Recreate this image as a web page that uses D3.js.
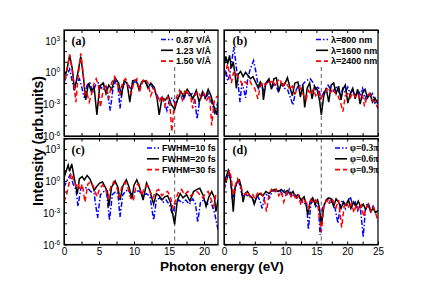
<!DOCTYPE html>
<html>
<head>
<meta charset="utf-8">
<script src="https://cdn.jsdelivr.net/npm/d3@7"></script>
<style>
  body { margin: 0; background: #fff; }
  svg { font-family: "Liberation Sans", Arial, sans-serif; }
  .axis path, .axis line { stroke: #000; stroke-width: 1; }
  .axis text { font-size: 10px; fill: #000; }
  .legend text { font-size: 9px; font-weight: bold; }
</style>
</head>
<body>
<svg id="chart" width="436" height="300"></svg>
<script>

// values are log10 of intensity as [eV, exponent]
var fieldLow = [[0,-0.9],[0.4,-0.3],[0.8,0.3],[1.1,-0.6],[1.4,-1.5],[1.8,-0.9],[2.2,-0.6],[2.5,-1.3],[2.9,-2.4],[3.3,-1.2],[3.7,-1.0],[4.1,-1.9],[4.5,-1.2],[4.9,-1.0],[5.3,-1.5],[5.7,-1.1],[6.1,-1.4],[6.6,-3.6],[7.0,-1.5],[7.4,-0.8],[7.7,-1.2],[8.0,-3.4],[8.4,-1.3],[8.8,-0.9],[9.2,-1.2],[9.6,-1.6],[10.0,-0.9],[10.4,-0.9],[10.8,-1.5],[11.2,-1.0],[11.6,-0.9],[12.0,-1.3],[12.4,-1.1],[12.8,-1.6],[13.2,-2.0],[13.6,-2.6],[14.0,-2.3],[14.4,-2.9],[14.7,-3.6],[15.1,-2.5],[15.5,-2.4],[15.9,-3.0],[16.3,-2.4],[16.7,-2.1],[17.1,-2.5],[17.5,-1.9],[17.9,-2.2],[18.3,-2.0],[18.7,-2.6],[19.0,-4.4],[19.4,-2.6],[19.8,-2.1],[20.2,-2.5],[20.6,-2.0],[21.0,-2.6],[21.5,-3.8],[22,-2.8]];
var fieldMid = [[0,-0.5],[0.4,0.2],[0.8,1.6],[1.2,0.3],[1.5,-1.7],[1.9,-0.3],[2.4,1.5],[2.8,-0.6],[3.1,-2.6],[3.5,-1.0],[3.9,-1.8],[4.3,-1.4],[4.7,-4.0],[5.1,-1.3],[5.6,-1.0],[6.0,-2.0],[6.4,-1.2],[6.8,-1.6],[7.3,-0.5],[7.8,-1.0],[8.2,-2.2],[8.6,-0.8],[9.0,-1.0],[9.4,-2.8],[9.8,-0.8],[10.3,-0.7],[10.7,-1.6],[11.1,-0.9],[11.6,-0.8],[12.0,-1.5],[12.4,-1.0],[12.9,-1.4],[13.3,-2.5],[13.6,-4.0],[14.0,-2.4],[14.5,-2.6],[14.9,-2.2],[15.3,-3.0],[15.8,-3.5],[16.2,-2.6],[16.7,-1.8],[17.1,-2.3],[17.6,-1.6],[18.0,-2.0],[18.4,-2.5],[18.9,-1.7],[19.3,-2.8],[19.8,-1.8],[20.2,-2.4],[20.6,-1.6],[21.0,-2.2],[21.4,-3.2],[21.8,-4.0],[22,-3.0]];
var fieldHigh = [[0,-1.4],[0.3,-0.3],[0.8,1.7],[1.1,0.5],[1.4,-1.0],[1.7,-2.8],[2.0,-0.5],[2.4,1.8],[2.7,0.2],[3.0,-2.2],[3.3,-2.0],[3.6,-2.8],[4.0,-1.9],[4.3,-1.0],[4.6,-0.6],[4.9,-1.2],[5.2,-3.3],[5.6,-1.6],[6.0,-1.3],[6.4,-2.5],[6.8,-1.0],[7.2,-0.4],[7.6,-1.1],[8.0,-2.0],[8.4,-0.9],[8.8,-0.6],[9.2,-1.3],[9.6,-2.0],[10.0,-0.9],[10.4,-0.6],[10.8,-1.8],[11.2,-0.8],[11.6,-0.6],[12.0,-1.0],[12.4,-2.2],[12.8,-1.5],[13.2,-2.1],[13.6,-2.8],[14.0,-2.2],[14.4,-3.2],[14.8,-2.3],[15.1,-2.8],[15.4,-5.6],[15.7,-3.4],[16.1,-2.3],[16.5,-1.7],[16.9,-2.6],[17.3,-1.6],[17.7,-2.0],[18.1,-2.3],[18.4,-3.4],[18.8,-2.0],[19.2,-1.8],[19.6,-2.4],[20.0,-2.0],[20.4,-2.6],[20.8,-2.2],[21.1,-5.0],[21.5,-2.5],[22,-2.2]];

var wave800 = [[0,-0.6],[0.3,0.2],[0.6,-0.8],[0.9,-0.3],[1.2,0.8],[1.6,2.4],[1.9,1.0],[2.2,-0.6],[2.6,-2.8],[2.9,-1.0],[3.2,-1.6],[3.5,-2.4],[3.8,-0.8],[4.2,0.2],[4.8,1.1],[5.2,0.0],[5.6,-1.5],[6.0,-1.0],[6.4,-1.7],[6.8,-1.1],[7.3,-0.8],[7.8,-1.4],[8.3,-1.0],[8.8,-1.8],[9.3,-1.1],[9.8,-1.5],[10.3,-1.6],[10.8,-2.4],[11.2,-3.1],[11.6,-1.8],[12.1,-1.2],[12.6,-1.3],[13.1,-0.9],[13.6,-0.7],[14.0,-0.6],[14.5,-1.0],[14.9,-1.6],[15.3,-1.3],[15.7,-2.4],[16.1,-2.0],[16.5,-1.6],[16.9,-1.2],[17.3,-1.6],[17.7,-1.9],[18.1,-1.3],[18.5,-1.6],[18.9,-2.2],[19.3,-1.5],[19.7,-1.9],[20.1,-1.4],[20.5,-2.0],[20.9,-1.7],[21.3,-2.3],[21.7,-1.6],[22.1,-2.1],[22.5,-1.5],[22.9,-2.5],[23.3,-2.0],[23.7,-2.3],[24.1,-2.0],[24.5,-2.9],[25,-2.6]];
var wave1600 = [[0,0.6],[0.3,1.5],[0.6,0.8],[0.9,1.6],[1.2,0.4],[1.5,1.0],[1.8,-0.2],[2.0,-1.5],[2.3,-0.2],[2.7,0.1],[3.1,-0.4],[3.5,0.0],[3.9,-0.3],[4.3,-0.6],[4.7,-0.4],[5.1,-0.9],[5.5,-1.4],[5.9,-0.9],[6.2,-1.2],[6.4,-2.6],[6.8,-1.0],[7.3,-0.6],[7.7,-1.6],[8.1,-0.6],[8.5,-0.5],[8.9,-1.8],[9.3,-1.0],[9.8,-1.2],[10.3,-0.5],[10.7,-1.4],[11.1,-2.2],[11.5,-1.0],[12.0,-0.9],[12.4,-2.3],[12.8,-1.2],[13.1,-3.3],[13.5,-1.5],[13.9,-1.0],[14.3,-2.5],[14.7,-1.3],[15.1,-1.6],[15.5,-2.6],[15.8,-4.0],[16.2,-2.2],[16.6,-1.5],[17.0,-2.8],[17.4,-1.2],[17.8,-1.0],[18.2,-2.0],[18.6,-1.3],[19.0,-2.6],[19.3,-1.6],[19.7,-1.2],[20.1,-2.9],[20.5,-2.0],[20.9,-1.5],[21.3,-2.5],[21.7,-1.6],[22.1,-3.0],[22.5,-1.9],[22.9,-1.6],[23.3,-2.4],[23.7,-2.0],[24.1,-2.8],[24.5,-2.4],[25,-3.0]];
var wave2400 = [[0,-0.4],[0.3,0.2],[0.6,0.8],[0.9,-0.2],[1.2,-1.0],[1.5,-0.1],[1.8,0.1],[2.2,-0.4],[2.6,-0.7],[3.0,-1.2],[3.4,-0.9],[3.8,-1.1],[4.2,-0.8],[4.6,-1.3],[5.0,-1.5],[5.5,-2.5],[5.9,-1.3],[6.3,-0.9],[6.7,-1.2],[7.1,-0.8],[7.5,-1.0],[7.9,-0.7],[8.3,-1.3],[8.7,-0.8],[9.1,-0.6],[9.5,-1.4],[9.9,-0.9],[10.3,-1.2],[10.7,-1.6],[11.1,-1.3],[11.5,-2.0],[11.9,-1.6],[12.3,-1.4],[12.7,-1.9],[13.3,-2.6],[13.7,-1.7],[14.1,-2.1],[14.5,-1.6],[14.9,-2.2],[15.3,-1.8],[15.7,-2.5],[16.1,-2.1],[16.5,-1.8],[16.9,-1.4],[17.3,-1.9],[17.7,-1.6],[18.1,-2.0],[18.5,-2.2],[18.9,-2.8],[19.3,-3.7],[19.7,-2.2],[20.1,-2.0],[20.5,-2.4],[20.9,-1.9],[21.3,-2.3],[21.7,-2.0],[22.1,-2.5],[22.5,-2.2],[22.8,-3.2],[23.2,-2.3],[23.6,-2.0],[24.0,-2.6],[24.5,-2.8],[25,-3.4]];

var fwhm10 = [[0,-0.6],[0.4,0.0],[0.9,0.6],[1.3,-0.3],[1.7,-0.8],[2.0,-2.4],[2.4,-0.7],[2.9,-0.6],[3.4,-0.7],[3.8,-1.0],[4.3,-1.2],[4.8,-3.5],[5.2,-1.3],[5.7,-1.0],[6.1,-1.2],[6.5,-3.7],[6.9,-1.3],[7.4,-1.0],[7.7,-1.2],[8.0,-3.4],[8.4,-1.3],[8.9,-0.9],[9.4,-1.1],[9.8,-1.3],[10.3,-0.9],[10.8,-1.0],[11.3,-1.4],[11.8,-1.2],[12.3,-1.5],[12.8,-3.7],[13.2,-1.8],[13.7,-1.6],[14.2,-2.0],[14.6,-1.8],[15.1,-2.3],[15.5,-3.2],[15.9,-2.2],[16.4,-1.8],[16.9,-2.1],[17.4,-1.8],[17.9,-2.2],[18.4,-1.7],[18.8,-2.2],[19.1,-3.9],[19.5,-2.0],[20.0,-1.8],[20.5,-2.2],[21.0,-2.0],[21.5,-3.0],[22,-4.6]];
var fwhm20 = [[0,0.3],[0.3,0.9],[0.6,1.5],[0.8,0.9],[1.1,1.6],[1.6,-0.2],[1.9,-1.2],[2.2,0.2],[2.6,0.4],[2.9,0.1],[3.3,0.5],[3.7,0.2],[4.0,-0.3],[4.3,-0.9],[4.7,-0.5],[5.1,-0.2],[5.5,-0.1],[5.9,-0.6],[6.2,-1.0],[6.4,-2.4],[6.8,-0.6],[7.3,0.0],[7.7,-0.6],[8.0,-1.8],[8.4,-0.5],[8.9,0.1],[9.3,-0.6],[9.7,-1.7],[10.0,-0.4],[10.4,0.1],[10.8,-0.6],[11.3,-1.8],[11.8,-0.2],[12.2,-0.8],[12.8,-2.2],[13.2,-1.2],[13.6,-1.4],[14.0,-1.8],[14.4,-1.5],[14.8,-1.4],[15.2,-2.0],[15.8,-4.1],[16.2,-1.8],[16.6,-1.2],[17.0,-1.6],[17.5,-1.3],[18.0,-1.9],[18.5,-1.0],[19.0,-0.8],[19.4,-0.7],[19.9,-1.4],[20.3,-2.4],[20.7,-1.5],[21.1,-1.0],[21.5,-1.6],[21.7,-2.9],[22,-1.8]];
var fwhm30 = [[0,-2.0],[0.4,-1.2],[0.7,-0.3],[1.0,0.7],[1.3,0.2],[1.7,-0.5],[2.0,-0.2],[2.3,-0.9],[2.6,-0.3],[3.0,-2.0],[3.4,-0.3],[3.8,-0.1],[4.2,-0.5],[4.7,-1.5],[5.1,-0.7],[5.5,-0.4],[5.9,-0.7],[6.3,-1.6],[6.7,-0.5],[7.1,-0.1],[7.5,-0.5],[7.9,-1.5],[8.3,-0.5],[8.7,-0.1],[9.1,-0.6],[9.5,-1.6],[9.9,-1.9],[10.3,-0.4],[10.7,-0.3],[11.1,-1.4],[11.5,-0.6],[11.9,-0.4],[12.3,-1.0],[12.7,-1.6],[13.1,-1.0],[13.5,-0.8],[14.0,-1.4],[14.4,-1.1],[14.8,-1.0],[15.2,-1.5],[15.6,-2.6],[16.0,-1.6],[16.4,-1.0],[16.8,-0.8],[17.2,-1.3],[17.7,-1.0],[18.1,-1.4],[18.5,-1.2],[19.0,-1.0],[19.4,-1.3],[19.8,-1.6],[20.2,-1.2],[20.6,-1.0],[21.0,-1.7],[21.4,-2.4],[21.7,-1.3],[22,-1.1]];

var phase03 = [[0,-0.8],[0.4,-0.1],[0.8,0.9],[1.1,0.0],[1.4,-1.9],[1.7,-1.0],[2.0,-0.3],[2.3,0.2],[2.6,-0.5],[3.0,-1.5],[3.4,-1.2],[3.8,-1.4],[4.2,-1.3],[4.6,-1.7],[5.0,-2.0],[5.4,-1.4],[5.8,-1.8],[6.2,-2.6],[6.6,-1.5],[7.0,-1.2],[7.4,-1.6],[7.8,-1.0],[8.2,-0.9],[8.6,-1.1],[9.0,-0.8],[9.4,-1.2],[9.8,-0.9],[10.2,-1.3],[10.6,-0.8],[11.0,-1.5],[11.4,-1.2],[11.8,-1.6],[12.2,-1.4],[12.6,-1.9],[13.0,-2.2],[13.4,-2.0],[13.7,-4.6],[14.1,-2.2],[14.5,-1.7],[14.9,-2.4],[15.3,-2.1],[15.6,-5.1],[16.0,-2.6],[16.4,-2.0],[16.8,-1.7],[17.2,-2.2],[17.6,-1.8],[18.0,-2.5],[18.5,-4.0],[18.9,-2.2],[19.3,-1.8],[19.7,-2.6],[20.1,-1.9],[20.5,-1.5],[20.9,-2.3],[21.3,-2.0],[21.7,-2.8],[22.1,-2.3],[22.6,-5.3],[23.0,-2.4],[23.4,-2.1],[23.8,-2.8],[24.2,-2.4],[24.6,-3.0],[25,-2.8]];
var phase06 = [[0,-0.4],[0.3,0.3],[0.7,1.0],[1.0,0.4],[1.2,-0.6],[1.5,-2.9],[1.8,-0.6],[2.2,0.0],[2.5,0.1],[2.8,-0.6],[3.1,-2.0],[3.4,-1.2],[3.8,-1.0],[4.2,-1.4],[4.6,-1.6],[4.9,-2.2],[5.3,-1.5],[5.8,-1.2],[6.3,-1.4],[6.8,-1.0],[7.3,-1.2],[7.8,-0.9],[8.3,-0.8],[8.8,-1.0],[9.3,-0.8],[9.8,-1.1],[10.3,-0.9],[10.8,-1.3],[11.2,-1.0],[11.6,-1.5],[12.0,-1.3],[12.5,-1.8],[13.0,-1.5],[13.3,-2.2],[13.6,-3.2],[14.0,-1.9],[14.4,-1.6],[14.8,-2.2],[15.2,-1.8],[15.5,-2.6],[15.8,-4.2],[16.2,-2.4],[16.6,-1.8],[17.0,-1.6],[17.4,-1.7],[17.8,-2.4],[18.2,-1.7],[18.6,-2.0],[19.0,-2.6],[19.4,-2.0],[19.8,-2.3],[20.2,-1.8],[20.6,-2.6],[21.0,-2.0],[21.4,-2.4],[21.8,-1.9],[22.2,-2.5],[22.6,-2.2],[23.0,-2.7],[23.4,-2.2],[23.8,-2.9],[24.2,-2.6],[24.6,-3.0],[25,-2.8]];
var phase09 = [[0,-0.9],[0.3,-0.1],[0.6,0.4],[0.9,1.0],[1.2,0.2],[1.5,-1.4],[1.8,-0.5],[2.2,0.2],[2.6,-0.3],[3.0,-1.0],[3.4,-1.3],[3.8,-1.0],[4.2,-1.5],[4.6,-1.2],[5.0,-1.7],[5.4,-1.2],[5.8,-1.0],[6.2,-1.3],[6.6,-1.9],[6.9,-2.9],[7.3,-1.3],[7.7,-0.8],[8.1,-1.1],[8.5,-0.8],[8.9,-1.4],[9.3,-1.0],[9.7,-2.0],[10.1,-1.2],[10.5,-1.0],[10.9,-1.5],[11.3,-1.2],[11.7,-1.8],[12.1,-1.4],[12.5,-2.3],[12.9,-1.6],[13.3,-2.0],[13.7,-2.6],[14.1,-1.8],[14.5,-2.1],[14.9,-1.8],[15.3,-2.5],[15.8,-4.8],[16.2,-2.4],[16.6,-1.8],[17.0,-2.2],[17.4,-1.6],[17.8,-2.0],[18.2,-2.5],[18.6,-1.8],[19.1,-4.4],[19.5,-2.4],[19.9,-2.0],[20.3,-2.6],[20.7,-2.1],[21.1,-3.0],[21.5,-2.2],[21.9,-2.8],[22.3,-2.3],[22.7,-3.4],[23.1,-2.5],[23.5,-2.2],[23.9,-2.9],[24.3,-2.5],[24.7,-3.2],[25,-3.9]];

var labelsA = ['0.87 V/Å', '1.23 V/Å', '1.50 V/Å'];
var labelsB = ['λ=800 nm', 'λ=1600 nm', 'λ=2400 nm'];
var labelsC = ['FWHM=10 fs', 'FWHM=20 fs', 'FWHM=30 fs'];
var labelsD = ['φ=0.3π', 'φ=0.6π', 'φ=0.9π'];
var yTickExp = [3, 0, -3, -6];
var cutoffEnergy = 15.8;

var styles = [
  { color: '#0000ff', dash: '5,2,1.5,2' },
  { color: '#000000', dash: null },
  { color: '#ff0000', dash: '5,3' }
];

var panels = [
  { id: 'a', left: 64, top: 30, width: 154, xMax: 22, series: [fieldLow, fieldMid, fieldHigh], labels: labelsA, legendX: 161, xLabels: false, yLabels: true, cutTop: 0.5, serif: false },
  { id: 'b', left: 224, top: 30, width: 154, xMax: 25, series: [wave800, wave1600, wave2400], labels: labelsB, legendX: 316, xLabels: false, yLabels: false, cutTop: 0.5, serif: false },
  { id: 'c', left: 64, top: 138.5, width: 154, xMax: 22, series: [fwhm10, fwhm20, fwhm30], labels: labelsC, legendX: 147, xLabels: true, yLabels: true, cutTop: 4, serif: false },
  { id: 'd', left: 224, top: 138.5, width: 154, xMax: 25, series: [phase03, phase06, phase09], labels: labelsD, legendX: 335, xLabels: true, yLabels: false, cutTop: 4, serif: true }
];
var panelHeight = 106;

var svg = d3.select('#chart');

panels.forEach(function( p ) {

  var g = svg.append('g')
    .attr('transform', 'translate(' + p.left + ',' + p.top + ')');

  var scaleX = d3.scaleLinear().domain([ 0, p.xMax ]).range([ 0, p.width ]);
  var scaleY = d3.scaleLog().domain([ 1e-6, 1e4 ]).range([ panelHeight, 0 ]);

  var xTicks = d3.range( 0, p.xMax + 0.01, 2.5 );
  var yTicks = d3.range( -6, 5 ).map(function( e ) { return Math.pow( 10, e ) });

  g.append('clipPath').attr('id', 'clip' + p.id)
    .append('rect').attr('width', p.width).attr('height', panelHeight);

  // dashed marker line at the ionisation edge
  g.append('line')
    .attr('x1', scaleX( cutoffEnergy )).attr('x2', scaleX( cutoffEnergy ))
    .attr('y1', scaleY( Math.pow( 10, p.cutTop ) )).attr('y2', panelHeight)
    .attr('stroke', '#777').attr('stroke-width', 1.2).attr('stroke-dasharray', '4,3');

  var line = d3.line()
    .x(function( d ) { return scaleX( d[0] ) })
    .y(function( d ) { return scaleY( Math.pow( 10, d[1] ) ) });

  p.series.forEach(function( s, i ) {
    g.append('path')
      .datum( s )
      .attr('clip-path', 'url(#clip' + p.id + ')')
      .attr('fill', 'none')
      .attr('stroke', styles[i].color)
      .attr('stroke-width', 1.5)
      .attr('stroke-dasharray', styles[i].dash)
      .attr('d', line);
  });

  var axisB = d3.axisBottom( scaleX ).tickValues( xTicks ).tickSizeInner( -3 ).tickSizeOuter( 0 )
    .tickFormat(function( d ) { return p.xLabels && d % 5 === 0 ? d : '' });
  g.append('g').classed('axis', true)
    .attr('transform', 'translate(0,' + panelHeight + ')')
    .call( axisB );

  g.append('g').classed('axis', true)
    .call( d3.axisTop( scaleX ).tickValues( xTicks ).tickSizeInner( -3 ).tickSizeOuter( 0 ).tickFormat('') );

  g.append('g').classed('axis', true)
    .call( d3.axisLeft( scaleY ).tickValues( yTicks ).tickSizeInner( -3 ).tickSizeOuter( 0 ).tickFormat('') );

  if ( p.yLabels ) {
    yTickExp.forEach(function( e ) {
      var t = g.append('text')
        .attr('x', -4)
        .attr('y', scaleY( Math.pow( 10, e ) ) + 4)
        .attr('text-anchor', 'end')
        .style('font-size', '10px');
      t.append('tspan').text('10');
      t.append('tspan').attr('dy', -4).style('font-size', '6.5px').text( e );
    });
  }

  g.append('rect')
    .attr('width', p.width).attr('height', panelHeight)
    .attr('fill', 'none').attr('stroke', '#000').attr('stroke-width', 1.2);

  g.append('text')
    .attr('x', p.id === 'a' || p.id === 'c' ? 7.5 : 8.5)
    .attr('y', 15)
    .style('font-family', '"Liberation Serif", "Times New Roman", serif')
    .style('font-weight', 'bold')
    .style('font-size', '12px')
    .text('(' + p.id + ')');

  var legend = svg.append('g').classed('legend', true);
  p.labels.forEach(function( lab, i ) {
    var y = p.top + 9.5 + i * 10.8;
    legend.append('line')
      .attr('x1', p.legendX).attr('x2', p.legendX + 12)
      .attr('y1', y).attr('y2', y)
      .attr('stroke', styles[i].color).attr('stroke-width', 1.6)
      .attr('stroke-dasharray', styles[i].dash);
    legend.append('text')
      .attr('x', p.legendX + 15)
      .attr('y', y + 3.2)
      .style('font-family', p.serif ? '"Liberation Serif", "Times New Roman", serif' : null)
      .style('font-size', p.serif ? '9.5px' : null)
      .text( lab );
  });
});

svg.append('text')
  .attr('transform', 'translate(43,141) rotate(-90)')
  .attr('text-anchor', 'middle')
  .style('font-weight', 'bold')
  .style('font-size', '14px')
  .text('Intensity (arb.units)');

svg.append('text')
  .attr('x', 222).attr('y', 271)
  .attr('text-anchor', 'middle')
  .style('font-weight', 'bold')
  .style('font-size', '13.5px')
  .text('Photon energy (eV)');

</script>
</body>
</html>
